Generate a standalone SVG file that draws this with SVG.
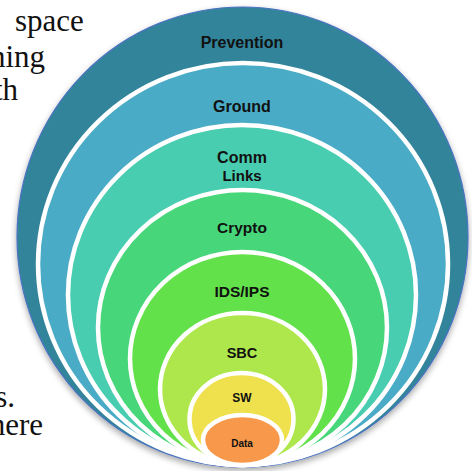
<svg xmlns="http://www.w3.org/2000/svg" width="472" height="471" viewBox="0 0 472 471">
  <defs>
    <filter id="shadow" x="-10%" y="-10%" width="120%" height="125%">
      <feDropShadow dx="0" dy="3" stdDeviation="3" flood-color="#000" flood-opacity="0.35"/>
    </filter>
  </defs>
  <style>
    .page { font-family: "Liberation Serif", "Times New Roman", serif; font-size: 31px; fill: #111; }
    .ring { stroke: #fff; stroke-width: 4.5; }
    .lbl { font-family: "Liberation Sans", Arial, sans-serif; font-weight: bold; fill: #111; text-anchor: middle; }
  </style>

  <rect width="472" height="471" fill="#fff"/>

  <!-- surrounding page text -->
  <g id="page-text">
    <text class="page" x="15" y="31">space</text>
    <text class="page" x="45" y="67" text-anchor="end">ning</text>
    <text class="page" x="18" y="100" text-anchor="end">th</text>
    <text class="page" x="15" y="407" text-anchor="end">s.</text>
    <text class="page" x="43" y="435" text-anchor="end">here</text>
  </g>

  <!-- nested layers, all resting on a common bottom point -->
  <g id="prevention">
    <ellipse cx="242.5" cy="237" rx="225.5" ry="230" fill="#33849b" stroke="#4a72c0" stroke-width="1.2" filter="url(#shadow)"/>
    <text class="lbl" x="242" y="48" font-size="16">Prevention</text>
  </g>
  <g id="ground">
    <ellipse class="ring" cx="243" cy="264" rx="205" ry="201" fill="#4aabc6"/>
    <text class="lbl" x="242" y="112" font-size="16">Ground</text>
  </g>
  <g id="comm-links">
    <ellipse class="ring" cx="242" cy="295" rx="174" ry="170" fill="#49cdb0"/>
    <text class="lbl" x="242" y="163" font-size="16">Comm</text>
    <text class="lbl" x="242" y="181" font-size="15">Links</text>
  </g>
  <g id="crypto">
    <ellipse class="ring" cx="242.5" cy="327.5" rx="144.5" ry="137.5" fill="#47d77a"/>
    <text class="lbl" x="242" y="232.5" font-size="15.5">Crypto</text>
  </g>
  <g id="ids-ips">
    <ellipse class="ring" cx="242.5" cy="358.5" rx="112.5" ry="106.5" fill="#62e14a"/>
    <text class="lbl" x="242" y="296.5" font-size="15.5">IDS/IPS</text>
  </g>
  <g id="sbc">
    <ellipse class="ring" cx="242.5" cy="389" rx="82.5" ry="76" fill="#ade74b"/>
    <text class="lbl" x="242" y="358" font-size="14.5">SBC</text>
  </g>
  <g id="sw">
    <ellipse class="ring" cx="241.5" cy="419" rx="52" ry="46" fill="#efe04d"/>
    <text class="lbl" x="242" y="402" font-size="12">SW</text>
  </g>
  <g id="data">
    <ellipse class="ring" cx="242.5" cy="440" rx="39.5" ry="25" fill="#f7984a"/>
    <text class="lbl" x="242" y="447" font-size="10">Data</text>
  </g>
</svg>
